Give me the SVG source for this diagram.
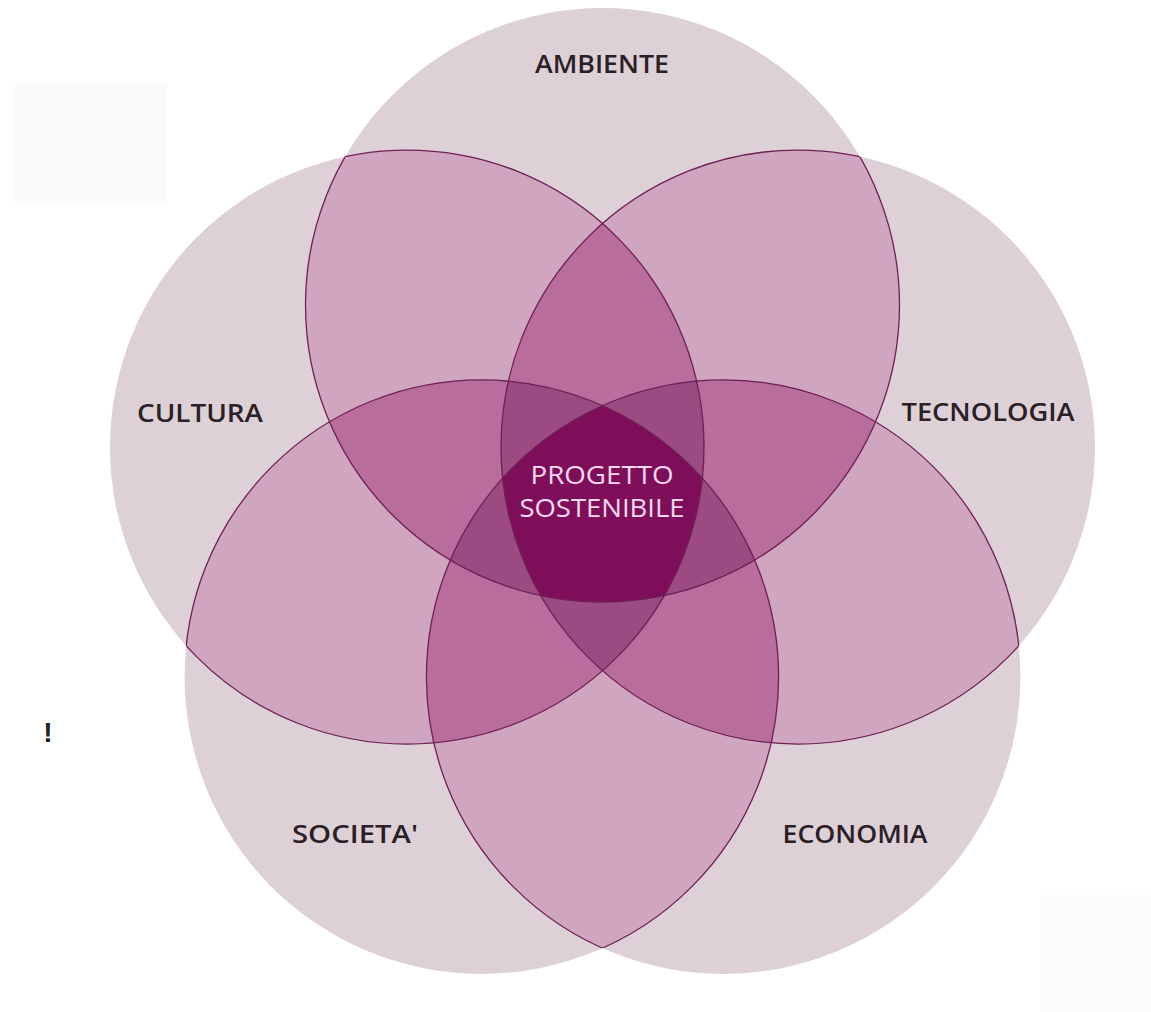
<svg xmlns="http://www.w3.org/2000/svg" width="1151" height="1012" viewBox="0 0 1151 1012">
<style>
.l1{fill:#ddd0d7}
.l2{fill:#cfa5bf}
.l3{fill:#b86d9d}
.l4{fill:#9c4a82}
.l5{fill:#7f0e5a}
.ol{fill:none;stroke:#6e1f55;stroke-width:1.3}
.lab{font-family:"Open Sans","Liberation Sans",sans-serif;font-size:26px;font-weight:600;fill:#2a2026;text-anchor:middle}
.ctr{font-family:"Open Sans","Liberation Sans",sans-serif;font-size:26px;font-weight:500;fill:#f6d9ef;text-anchor:middle}
</style>
<defs>
<clipPath id="cA"><circle cx="602.5" cy="305" r="297"/></clipPath>
<clipPath id="cT"><circle cx="798" cy="447.1" r="297"/></clipPath>
<clipPath id="cE"><circle cx="723.4" cy="676.9" r="297"/></clipPath>
<clipPath id="cS"><circle cx="481.6" cy="676.9" r="297"/></clipPath>
<clipPath id="cC"><circle cx="407" cy="447.1" r="297"/></clipPath>
<clipPath id="oA"><circle cx="798" cy="447.1" r="297"/><circle cx="723.4" cy="676.9" r="297"/><circle cx="481.6" cy="676.9" r="297"/><circle cx="407" cy="447.1" r="297"/></clipPath>
<clipPath id="oT"><circle cx="602.5" cy="305" r="297"/><circle cx="723.4" cy="676.9" r="297"/><circle cx="481.6" cy="676.9" r="297"/><circle cx="407" cy="447.1" r="297"/></clipPath>
<clipPath id="oE"><circle cx="602.5" cy="305" r="297"/><circle cx="798" cy="447.1" r="297"/><circle cx="481.6" cy="676.9" r="297"/><circle cx="407" cy="447.1" r="297"/></clipPath>
<clipPath id="oS"><circle cx="602.5" cy="305" r="297"/><circle cx="798" cy="447.1" r="297"/><circle cx="723.4" cy="676.9" r="297"/><circle cx="407" cy="447.1" r="297"/></clipPath>
<clipPath id="oC"><circle cx="602.5" cy="305" r="297"/><circle cx="798" cy="447.1" r="297"/><circle cx="723.4" cy="676.9" r="297"/><circle cx="481.6" cy="676.9" r="297"/></clipPath>
</defs>
<rect width="1151" height="1012" fill="#ffffff"/>
<rect x="15" y="83" width="152" height="120" fill="#fafafa"/>
<rect x="1041" y="895" width="110" height="117" fill="#fbfbfb"/>
<text x="48" y="742" font-family="Liberation Sans, sans-serif" font-weight="bold" font-size="28" fill="#222" text-anchor="middle">!</text>

<g id="base">
<circle class="l1" cx="602.5" cy="305" r="297"/>
<circle class="l1" cx="798" cy="447.1" r="297"/>
<circle class="l1" cx="723.4" cy="676.9" r="297"/>
<circle class="l1" cx="481.6" cy="676.9" r="297"/>
<circle class="l1" cx="407" cy="447.1" r="297"/>
</g>

<g id="overlap2">
<g clip-path="url(#cA)"><circle class="l2" cx="798" cy="447.1" r="297"/><circle class="l2" cx="723.4" cy="676.9" r="297"/><circle class="l2" cx="481.6" cy="676.9" r="297"/><circle class="l2" cx="407" cy="447.1" r="297"/></g>
<g clip-path="url(#cT)"><circle class="l2" cx="723.4" cy="676.9" r="297"/><circle class="l2" cx="481.6" cy="676.9" r="297"/><circle class="l2" cx="407" cy="447.1" r="297"/></g>
<g clip-path="url(#cE)"><circle class="l2" cx="481.6" cy="676.9" r="297"/><circle class="l2" cx="407" cy="447.1" r="297"/></g>
<g clip-path="url(#cS)"><circle class="l2" cx="407" cy="447.1" r="297"/></g>
</g>

<g id="overlap3">
<g clip-path="url(#cA)"><g clip-path="url(#cT)"><circle class="l3" cx="723.4" cy="676.9" r="297"/><circle class="l3" cx="481.6" cy="676.9" r="297"/><circle class="l3" cx="407" cy="447.1" r="297"/></g></g>
<g clip-path="url(#cA)"><g clip-path="url(#cE)"><circle class="l3" cx="481.6" cy="676.9" r="297"/><circle class="l3" cx="407" cy="447.1" r="297"/></g></g>
<g clip-path="url(#cA)"><g clip-path="url(#cS)"><circle class="l3" cx="407" cy="447.1" r="297"/></g></g>
<g clip-path="url(#cT)"><g clip-path="url(#cE)"><circle class="l3" cx="481.6" cy="676.9" r="297"/><circle class="l3" cx="407" cy="447.1" r="297"/></g></g>
<g clip-path="url(#cT)"><g clip-path="url(#cS)"><circle class="l3" cx="407" cy="447.1" r="297"/></g></g>
<g clip-path="url(#cE)"><g clip-path="url(#cS)"><circle class="l3" cx="407" cy="447.1" r="297"/></g></g>
</g>

<g id="overlap4">
<g clip-path="url(#cA)"><g clip-path="url(#cT)"><g clip-path="url(#cE)"><circle class="l4" cx="481.6" cy="676.9" r="297"/><circle class="l4" cx="407" cy="447.1" r="297"/></g></g></g>
<g clip-path="url(#cA)"><g clip-path="url(#cT)"><g clip-path="url(#cS)"><circle class="l4" cx="407" cy="447.1" r="297"/></g></g></g>
<g clip-path="url(#cA)"><g clip-path="url(#cE)"><g clip-path="url(#cS)"><circle class="l4" cx="407" cy="447.1" r="297"/></g></g></g>
<g clip-path="url(#cT)"><g clip-path="url(#cE)"><g clip-path="url(#cS)"><circle class="l4" cx="407" cy="447.1" r="297"/></g></g></g>
</g>

<g id="overlap5">
<g clip-path="url(#cA)"><g clip-path="url(#cT)"><g clip-path="url(#cE)"><g clip-path="url(#cS)"><circle class="l5" cx="407" cy="447.1" r="297"/></g></g></g></g>
</g>

<g id="outlines">
<circle class="ol" cx="602.5" cy="305" r="297" clip-path="url(#oA)"/>
<circle class="ol" cx="798" cy="447.1" r="297" clip-path="url(#oT)"/>
<circle class="ol" cx="723.4" cy="676.9" r="297" clip-path="url(#oE)"/>
<circle class="ol" cx="481.6" cy="676.9" r="297" clip-path="url(#oS)"/>
<circle class="ol" cx="407" cy="447.1" r="297" clip-path="url(#oC)"/>
</g>

<g id="node-ambiente"><text class="lab" x="602" y="73" textLength="134" lengthAdjust="spacingAndGlyphs">AMBIENTE</text></g>
<g id="node-tecnologia"><text class="lab" x="988" y="421" textLength="173" lengthAdjust="spacingAndGlyphs">TECNOLOGIA</text></g>
<g id="node-economia"><text class="lab" x="855" y="843" textLength="145" lengthAdjust="spacingAndGlyphs">ECONOMIA</text></g>
<g id="node-societa"><text class="lab" x="355" y="843" textLength="126" lengthAdjust="spacingAndGlyphs">SOCIETA'</text></g>
<g id="node-cultura"><text class="lab" x="200" y="422" textLength="126" lengthAdjust="spacingAndGlyphs">CULTURA</text></g>
<g id="node-centro">
<text class="ctr" x="602" y="484" textLength="143" lengthAdjust="spacingAndGlyphs">PROGETTO</text>
<text class="ctr" x="602" y="517" textLength="165" lengthAdjust="spacingAndGlyphs">SOSTENIBILE</text>
</g>
</svg>
